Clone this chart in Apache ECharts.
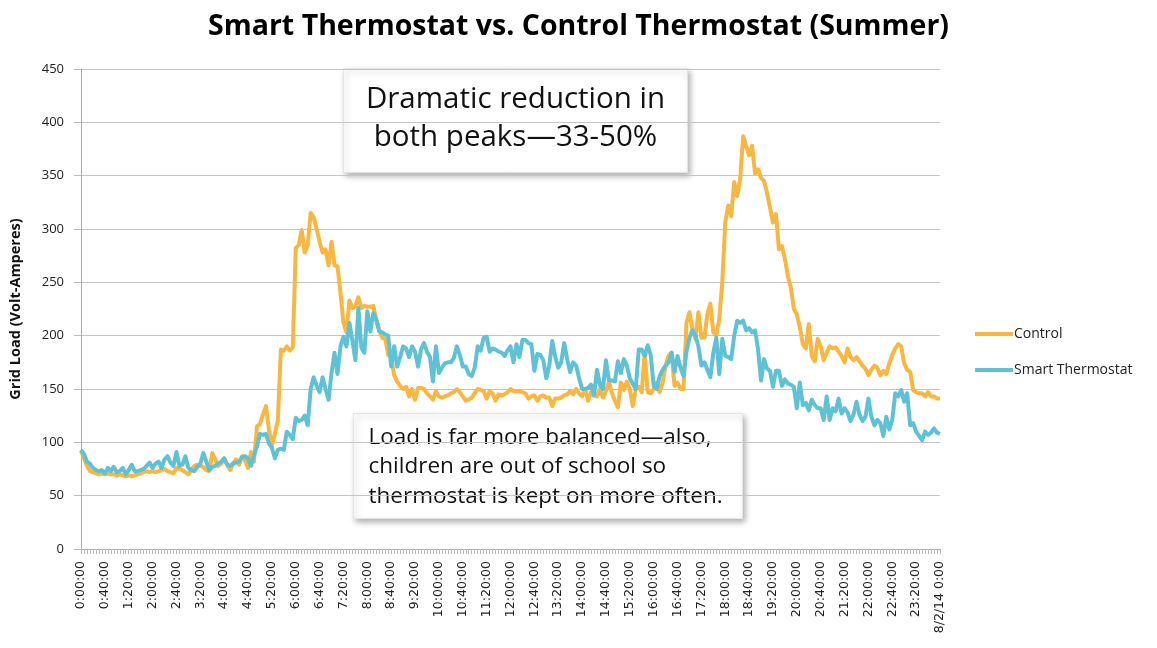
<!DOCTYPE html>
<html>
<head>
<meta charset="utf-8">
<script src="https://cdn.jsdelivr.net/npm/echarts@6/dist/echarts.min.js"></script>
<style>
  html, body { margin: 0; padding: 0; background: #fff; }
  #main { width: 1157px; height: 648px; }
</style>
</head>
<body>
<div id="main"></div>
<script>
'use strict'

// 5-minute readings, 0:00 to next day 0:00
var times = [];
for (let m = 0; m < 24 * 60; m += 5) {
  let h = Math.floor(m / 60);
  let mm = m % 60;
  times.push(h + ':' + (mm < 10 ? '0' : '') + mm + ':00');
}
times.push('8/2/14 0:00');

var control = [
  92, 85, 78, 73, 72, 71, 70, 71, 70, 71, 70, 70,
  69, 70, 69, 68, 69, 68, 69, 70, 71, 72, 73, 72,
  73, 72, 73, 74, 75, 73, 72, 71, 76, 75, 74, 72,
  70, 74, 78, 79, 78, 77, 74, 73, 90, 84, 78, 80,
  85, 79, 74, 80, 84, 79, 87, 83, 76, 91, 82, 115,
  117, 126, 134, 112, 97, 108, 121, 187, 186, 190, 186, 189,
  282, 285, 299, 278, 285, 315, 311, 300, 288, 278, 281, 266,
  288, 266, 265, 240, 212, 203, 233, 226, 228, 236, 226, 228,
  227, 227, 228, 215, 205, 198, 197, 182, 180, 163, 157, 153,
  150, 152, 143, 150, 140, 151, 151, 150, 146, 143, 140, 148,
  143, 142, 143, 144, 146, 147, 150, 147, 143, 139, 140, 142,
  146, 150, 149, 148, 141, 148, 146, 139, 145, 144, 145, 147,
  150, 148, 148, 148, 147, 146, 141, 143, 144, 139, 143, 144,
  142, 142, 134, 141, 141, 142, 144, 145, 148, 145, 150, 146,
  143, 150, 139, 147, 144, 143, 150, 142, 148, 157, 146, 139,
  133, 156, 149, 157, 150, 134, 150, 152, 147, 184, 147, 146,
  150, 156, 147, 156, 172, 181, 184, 153, 156, 150, 150, 212,
  222, 206, 197, 222, 198, 198, 220, 230, 203, 200, 216, 250,
  306, 322, 312, 344, 331, 347, 387, 378, 369, 378, 352, 356,
  348, 345, 334, 320, 306, 314, 281, 284, 272, 256, 245, 225,
  220, 208, 192, 188, 211, 181, 176, 197, 190, 177, 184, 190,
  188, 189, 185, 181, 175, 188, 180, 177, 180, 176, 172, 169,
  163, 168, 172, 170, 163, 167, 164, 174, 182, 188, 192, 190,
  174, 168, 166, 149, 147, 146, 146, 143, 147, 143, 143, 141,
  141
];

var smart = [
  93, 89, 82, 80, 76, 74, 73, 74, 71, 76, 73, 77,
  72, 73, 76, 70, 74, 79, 73, 73, 74, 75, 78, 81,
  76, 80, 82, 76, 84, 87, 81, 78, 91, 78, 79, 87,
  76, 74, 73, 77, 80, 90, 82, 74, 77, 78, 80, 82,
  85, 79, 78, 80, 81, 82, 86, 87, 85, 78, 88, 96,
  108, 107, 108, 99, 95, 85, 93, 94, 93, 110, 107, 103,
  123, 120, 121, 125, 116, 150, 161, 153, 147, 161, 150, 140,
  165, 184, 164, 190, 199, 190, 212, 195, 177, 226, 189, 184,
  223, 204, 221, 215, 204, 203, 201, 200, 171, 190, 171, 180,
  190, 188, 180, 190, 185, 171, 187, 193, 185, 180, 157, 190,
  165, 170, 174, 175, 175, 179, 190, 182, 171, 171, 164, 162,
  170, 190, 186, 198, 199, 185, 188, 187, 185, 184, 181, 186,
  190, 175, 192, 180, 196, 196, 193, 192, 167, 183, 182, 177,
  160, 172, 195, 180, 170, 175, 193, 178, 166, 175, 172, 160,
  150, 150, 151, 154, 144, 168, 154, 150, 177, 158, 158, 157,
  176, 165, 178, 172, 160, 155, 150, 187, 187, 181, 191, 182,
  153, 150, 162, 168, 172, 175, 184, 166, 181, 170, 162, 185,
  198, 205, 200, 190, 172, 175, 168, 161, 184, 198, 164, 197,
  181, 180, 178, 200, 214, 212, 214, 205, 207, 203, 205, 187,
  158, 178, 169, 167, 152, 167, 167, 153, 159, 155, 154, 152,
  132, 156, 135, 137, 130, 140, 135, 132, 132, 121, 143, 121,
  132, 129, 141, 127, 132, 128, 120, 126, 138, 126, 120, 124,
  141, 124, 116, 121, 118, 106, 124, 112, 121, 146, 143, 149,
  138, 146, 116, 118, 110, 106, 102, 110, 107, 109, 113, 109,
  108
];

var seriesNames = ['Control', 'Smart Thermostat'];
var seriesColors = ['#F9B640', '#5FC1D6'];

var myChart = echarts.init(document.getElementById('main'));

var option = {
  animation: false,
  title: {
    text: 'Smart Thermostat vs. Control Thermostat (Summer)',
    left: 'center',
    top: 7,
    textStyle: {
      fontFamily: 'Open Sans',
      fontWeight: 'bold',
      fontSize: 28.5,
      color: '#000'
    }
  },
  legend: {
    orient: 'vertical',
    left: 970,
    top: 322,
    itemWidth: 38,
    itemHeight: 4,
    itemGap: 22,
    icon: 'rect',
    textStyle: {
      fontFamily: 'Open Sans',
      fontSize: 14,
      color: '#222',
      padding: [0, 0, 0, -4]
    },
    data: seriesNames
  },
  grid: {
    left: 80,
    right: 217,
    top: 69,
    bottom: 99
  },
  xAxis: {
    type: 'category',
    boundaryGap: false,
    data: times,
    axisLine: { lineStyle: { color: '#aaa', width: 1 } },
    axisTick: {
      interval: 0,
      length: 5,
      lineStyle: { color: '#bbb' }
    },
    axisLabel: {
      interval: 7,
      rotate: 90,
      fontFamily: 'DejaVu Sans',
      fontSize: 12.5,
      color: '#222',
      margin: 12
    },
    splitLine: { show: false }
  },
  yAxis: {
    type: 'value',
    min: 0,
    max: 450,
    interval: 50,
    name: 'Grid Load (Volt-Amperes)',
    nameLocation: 'middle',
    nameGap: 58,
    nameTextStyle: {
      fontFamily: 'Open Sans',
      fontWeight: 'bold',
      fontSize: 14.5,
      color: '#111'
    },
    axisLine: { show: true, lineStyle: { color: '#aaa' } },
    axisTick: { show: true, length: 7, lineStyle: { color: '#bbb' } },
    axisLabel: {
      fontFamily: 'Open Sans',
      fontSize: 13,
      color: '#222',
      margin: 17
    },
    splitLine: { lineStyle: { color: '#c4c4c4', width: 1 } }
  },
  series: [
    {
      name: seriesNames[0],
      type: 'line',
      data: control,
      showSymbol: false,
      symbol: 'none',
      color: seriesColors[0],
      lineStyle: { width: 4, color: seriesColors[0], join: 'round' }
    },
    {
      name: seriesNames[1],
      type: 'line',
      data: smart,
      showSymbol: false,
      symbol: 'none',
      color: seriesColors[1],
      lineStyle: { width: 4, color: seriesColors[1], join: 'round' }
    }
  ],
  graphic: [
    {
      type: 'group',
      left: 343,
      top: 68,
      z: 100,
      children: [
        {
          type: 'rect',
          shape: { x: 0, y: 0, width: 344, height: 104 },
          style: {
            fill: '#fff',
            stroke: '#e4e4e4',
            lineWidth: 1,
            shadowBlur: 6,
            shadowOffsetX: 2,
            shadowOffsetY: 3,
            shadowColor: 'rgba(0,0,0,0.3)'
          }
        },
        {
          type: 'text',
          x: 172,
          y: 12,
          style: {
            text: 'Dramatic reduction in\nboth peaks\u201433-50%',
            textAlign: 'center',
            fontFamily: 'Open Sans',
            fontSize: 29.5,
            lineHeight: 38,
            fill: '#111'
          }
        }
      ]
    },
    {
      type: 'group',
      left: 353,
      top: 413,
      z: 100,
      children: [
        {
          type: 'rect',
          shape: { x: 0, y: 0, width: 389, height: 105 },
          style: {
            fill: '#fff',
            stroke: '#e4e4e4',
            lineWidth: 1,
            shadowBlur: 6,
            shadowOffsetX: 2,
            shadowOffsetY: 3,
            shadowColor: 'rgba(0,0,0,0.3)'
          }
        },
        {
          type: 'text',
          x: 15,
          y: 9,
          style: {
            text: 'Load is far more balanced\u2014also,\nchildren are out of school so\nthermostat is kept on more often.',
            textAlign: 'left',
            fontFamily: 'Open Sans',
            fontSize: 22.5,
            lineHeight: 29.5,
            fill: '#111'
          }
        }
      ]
    }
  ]
};

myChart.setOption(option);
</script>
</body>
</html>
